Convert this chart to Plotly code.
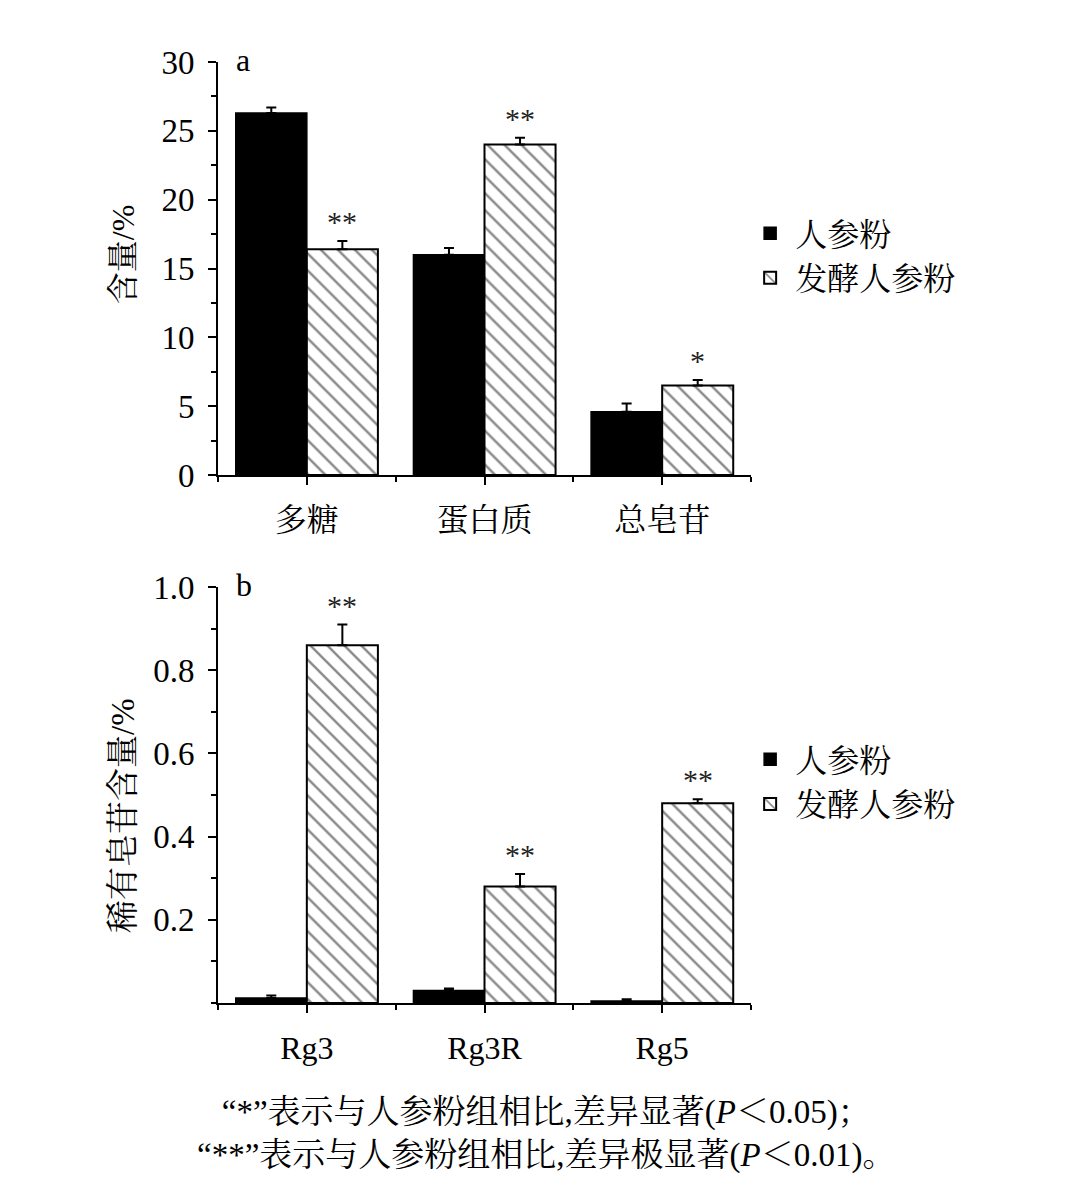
import plotly.graph_objects as go
from plotly.subplots import make_subplots

# Panel a
cats_a = ["多糖", "蛋白质", "总皂苷"]
raw_a = [26.3, 16.0, 4.6]
raw_a_err = [0.4, 0.5, 0.6]
fer_a = [16.4, 24.0, 6.5]
fer_a_err = [0.6, 0.5, 0.4]
sig_a = ["**", "**", "*"]

# Panel b
cats_b = ["Rg3", "Rg3R", "Rg5"]
raw_b = [0.012, 0.030, 0.005]
raw_b_err = [0.006, 0.005, 0.004]
fer_b = [0.86, 0.28, 0.48]
fer_b_err = [0.05, 0.03, 0.01]
sig_b = ["**", "**", "**"]

series_names = ["人参粉", "发酵人参粉"]
yt_a = [0, 5, 10, 15, 20, 25, 30]
yt_b = [0.2, 0.4, 0.6, 0.8, 1.0]

FONT = "Liberation Serif, Noto Serif CJK SC, Noto Sans CJK SC, serif"

fig = make_subplots(rows=2, cols=1, vertical_spacing=0.12)

def add_panel(row, cats, raw, raw_err, fer, fer_err, legend):
    xs = list(range(len(cats)))
    fig.add_trace(go.Bar(
        x=xs, y=raw, name=series_names[0], legend=legend,
        marker=dict(color="black", line=dict(color="black", width=1.5)),
        error_y=dict(type="data", symmetric=False, array=raw_err,
                     arrayminus=[0]*len(raw), color="black", thickness=2, width=5),
    ), row=row, col=1)
    fig.add_trace(go.Bar(
        x=xs, y=fer, name=series_names[1], legend=legend,
        marker=dict(color="white", line=dict(color="black", width=2),
                    pattern=dict(shape="\\", fgcolor="#111", bgcolor="white",
                                 size=12, solidity=0.2)),
        error_y=dict(type="data", symmetric=False, array=fer_err,
                     arrayminus=[0]*len(fer), color="black", thickness=2, width=5),
    ), row=row, col=1)

add_panel(1, cats_a, raw_a, raw_a_err, fer_a, fer_a_err, "legend")
add_panel(2, cats_b, raw_b, raw_b_err, fer_b, fer_b_err, "legend2")

# significance markers
for row, cats, vals, errs, sigs in [(1, cats_a, fer_a, fer_a_err, sig_a),
                                    (2, cats_b, fer_b, fer_b_err, sig_b)]:
    for i, (v, e, s) in enumerate(zip(vals, errs, sigs)):
        fig.add_annotation(x=i + 0.2, y=v + e, text=s, showarrow=False,
                           yanchor="bottom", yshift=1,
                           font=dict(family=FONT, size=30, color="#222"),
                           row=row, col=1)

xcommon = dict(range=[-0.5, 2.5], showline=True, linecolor="black", linewidth=2,
               ticks="outside", ticklen=8, tickwidth=1.5, tickcolor="black",
               minor=dict(tick0=0.5, dtick=1, ticks="outside", ticklen=5,
                          tickwidth=1.5, tickcolor="black"),
               showgrid=False, zeroline=False, ticklabelstandoff=8,
               tickfont=dict(family=FONT, size=32, color="black"))
fig.update_xaxes(**xcommon, tickvals=list(range(len(cats_a))), ticktext=cats_a, row=1, col=1)
fig.update_xaxes(**xcommon, tickvals=list(range(len(cats_b))), ticktext=cats_b, row=2, col=1)

ycommon = dict(showline=True, linecolor="black", linewidth=2,
               ticks="outside", ticklen=8, tickwidth=1.5, tickcolor="black",
               showgrid=False, zeroline=False, ticklabelstandoff=7,
               tickfont=dict(family=FONT, size=33, color="black"))
fig.update_yaxes(**ycommon, range=[0, 30], tickvals=yt_a,
                 minor=dict(dtick=2.5, ticks="outside", ticklen=5, tickwidth=1.5, tickcolor="black"),
                 row=1, col=1)
fig.update_yaxes(**ycommon, range=[0, 1.0], tickvals=yt_b, tickformat=".1f",
                 minor=dict(dtick=0.1, ticks="outside", ticklen=5, tickwidth=1.5, tickcolor="black"),
                 row=2, col=1)

fig.update_layout(
    yaxis=dict(domain=[0.561, 1.0]),
    yaxis2=dict(domain=[0.0, 0.442]),
)

# axis titles
fig.add_annotation(x=-0.178, y=0.535, xref="x domain", yref="y domain", text="含量/%",
                   showarrow=False, textangle=-90, xanchor="center", yanchor="middle",
                   font=dict(family=FONT, size=32, color="black"))
fig.add_annotation(x=-0.178, y=0.45, xref="x2 domain", yref="y2 domain", text="稀有皂苷含量/%",
                   showarrow=False, textangle=-90, xanchor="center", yanchor="middle",
                   font=dict(family=FONT, size=33, color="black"))

fig.add_annotation(x=0.03, y=1.005, xref="x domain", yref="y domain", text="a", showarrow=False,
                   xanchor="left", yanchor="middle", font=dict(family=FONT, size=32, color="black"))
fig.add_annotation(x=0.03, y=1.005, xref="x2 domain", yref="y2 domain", text="b", showarrow=False,
                   xanchor="left", yanchor="middle", font=dict(family=FONT, size=32, color="black"))

caption = ("“*”表示与人参粉组相比,差异显著(<i>P</i>＜0.05)；<br>"
           "“**”表示与人参粉组相比,差异极显著(<i>P</i>＜0.01)。")
fig.add_annotation(x=0.615, y=-0.095, xref="paper", yref="paper", text=caption, showarrow=False,
                   xanchor="center", yanchor="top", align="center",
                   font=dict(family=FONT, size=33, color="black"))

legfont = dict(family=FONT, size=32, color="black")
fig.update_layout(
    width=1077, height=1185,
    margin=dict(l=210, r=334, t=54, b=190, autoexpand=False),
    paper_bgcolor="white", plot_bgcolor="white",
    barmode="group", bargap=0.2, bargroupgap=0,
    legend=dict(x=0.989, y=0.847, xanchor="left", yanchor="top", font=legfont,
                bgcolor="rgba(0,0,0,0)", tracegroupgap=0, itemwidth=40),
    legend2=dict(x=0.989, y=0.288, xanchor="left", yanchor="top", font=legfont,
                 bgcolor="rgba(0,0,0,0)", tracegroupgap=0, itemwidth=40),
    font=dict(family=FONT, color="black"),
)

fig.write_html("out.html")
